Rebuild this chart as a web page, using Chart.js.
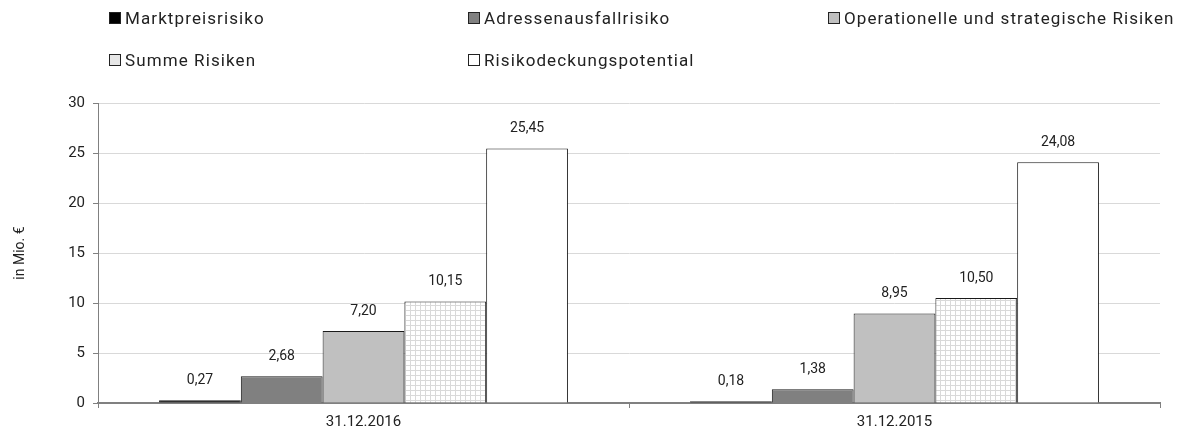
<!DOCTYPE html>
<html>
<head>
<meta charset="utf-8">
<script src="https://cdn.jsdelivr.net/npm/chart.js@4"></script>
<style>
  html, body { margin: 0; padding: 0; background: #fff; }
  #wrap { position: relative; width: 1183px; height: 434px; }
  .leg { position: absolute; font: 17px Roboto, sans-serif; letter-spacing: 1.1px; color: #222; display: flex; align-items: center; white-space: nowrap; height: 18px; }
  .leg i { display: inline-block; width: 10px; height: 10px; border: 1px solid #222; margin-right: 4px; }
</style>
</head>
<body>
<div id="wrap">
  <canvas id="chart" width="1183" height="434"></canvas>
</div>
<script>
const categories = ['31.12.2016', '31.12.2015'];
const seriesNames = ['Marktpreisrisiko', 'Adressenausfallrisiko', 'Operationelle und strategische Risiken', 'Summe Risiken', 'Risikodeckungspotential'];
const marktpreis = [0.27, 0.18];
const adressen = [2.68, 1.38];
const operationell = [7.20, 8.95];
const summe = [10.15, 10.50];
const deckung = [25.45, 24.08];
const yTicks = [0, 5, 10, 15, 20, 25, 30];

function gridPattern() {
  const c = document.createElement('canvas');
  c.width = 5; c.height = 5;
  const g = c.getContext('2d');
  g.fillStyle = '#fff';
  g.fillRect(0, 0, 5, 5);
  g.fillStyle = '#d9d9d9';
  g.fillRect(0, 0, 5, 1);
  g.fillRect(0, 0, 1, 5);
  return document.getElementById('chart').getContext('2d').createPattern(c, 'repeat');
}

const fills = ['#000000', '#808080', '#c0c0c0', null, '#ffffff'];
const legendPos = [[109, 18], [468, 18], [828, 18], [109, 60], [468, 60]];

const wrap = document.getElementById('wrap');
seriesNames.forEach((name, i) => {
  const d = document.createElement('div');
  d.className = 'leg';
  d.style.left = legendPos[i][0] + 'px';
  d.style.top = (legendPos[i][1] - 9) + 'px';
  const bg = i === 3 ? '#e6e6e6' : fills[i];
  d.innerHTML = `<i style="background:${bg}"></i>${name}`;
  wrap.appendChild(d);
});

const valueLabels = {
  id: 'valueLabels',
  afterDatasetsDraw(chart) {
    const ctx = chart.ctx;
    ctx.save();
    ctx.font = '14px Roboto, sans-serif';
    ctx.fillStyle = '#222';
    ctx.textAlign = 'center';
    ctx.textBaseline = 'bottom';
    chart.data.datasets.forEach((ds, i) => {
      chart.getDatasetMeta(i).data.forEach((bar, j) => {
        ctx.fillText(ds.data[j].toFixed(2).replace('.', ','), bar.x, bar.y - 13);
      });
    });
    ctx.restore();
  }
};

const allData = [marktpreis, adressen, operationell, summe, deckung];
const datasets = allData.map((data, i) => ({
  label: seriesNames[i],
  data,
  backgroundColor: i === 3 ? gridPattern() : fills[i],
  borderColor: '#1a1a1a',
  borderWidth: 1,
  borderSkipped: 'bottom',
  categoryPercentage: 0.77,
  barPercentage: 1.0
}));

new Chart(document.getElementById('chart'), {
  type: 'bar',
  data: { labels: categories, datasets },
  plugins: [valueLabels],
  options: {
    responsive: false,
    animation: false,
    layout: { padding: { top: 103, right: 23, left: 0, bottom: 0 } },
    plugins: { legend: { display: false }, tooltip: { enabled: false } },
    scales: {
      x: {
        grid: { drawOnChartArea: false, drawTicks: true, tickLength: 5, color: '#808080', offset: true },
        border: { color: '#808080', width: 2 },
        ticks: { color: '#222', font: { family: 'Roboto', size: 15 }, padding: 5 },
        afterFit(scale) { scale.height = 31; }
      },
      y: {
        min: 0, max: 30,
        afterBuildTicks(scale) { scale.ticks = yTicks.map(v => ({ value: v })); },
        grid: { color: '#d9d9d9', tickLength: 5, tickColor: '#808080' },
        border: { color: '#808080', width: 1 },
        ticks: { color: '#222', font: { family: 'Roboto', size: 15 }, padding: 8 },
        title: { display: true, text: 'in Mio. €', color: '#222', font: { family: 'Roboto', size: 14 }, padding: { top: 12, bottom: 0 } },
        afterFit(scale) { scale.width = 98; }
      }
    }
  }
});
</script>
</body>
</html>
